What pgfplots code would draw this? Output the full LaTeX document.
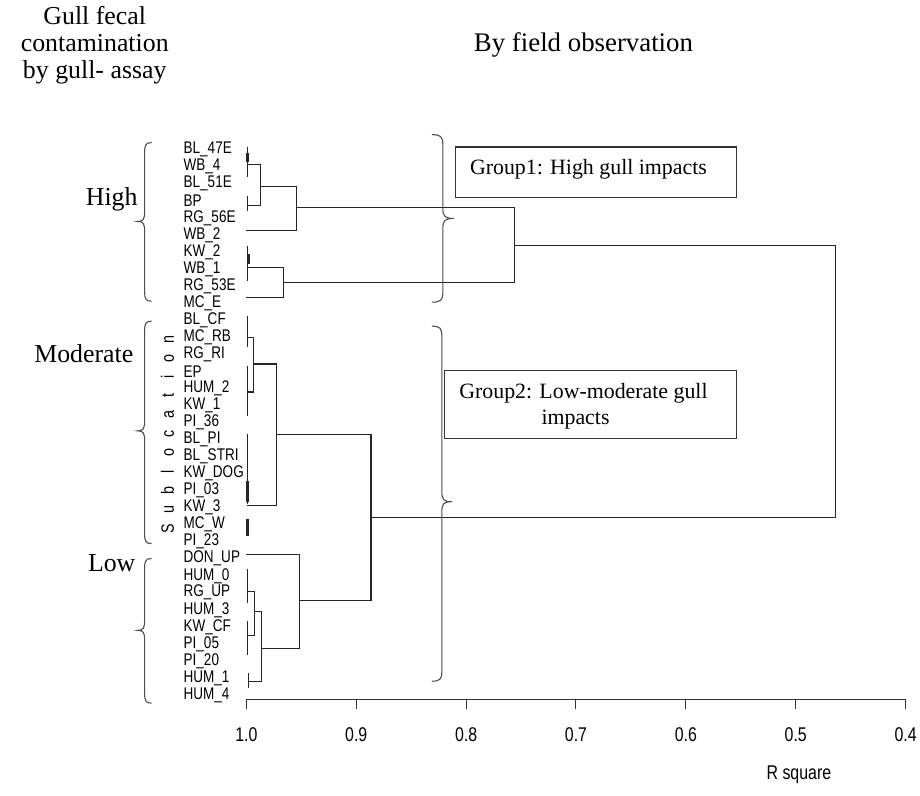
\documentclass[border=0pt]{standalone}
\usepackage{fontspec}
\setmainfont{Liberation Serif}
\newfontfamily\sasfont[FakeStretch=0.8]{Liberation Sans}
\usepackage{pgfplots}
\pgfplotsset{compat=1.18}

% brace: x0, ytop, ytip, ybot, h (h>0 tip to the left, h<0 tip to the right)
\newcommand{\vbrace}[5]{%
  \draw[line width=1.1, black!70] (#1,#2) .. controls +({-0.8*(#5)},0) and +(0,-8) .. ({#1-(#5)},{#2+10})
   -- ({#1-(#5)},{#3-10}) .. controls +(0,8) and +({0.8*(#5)},0) .. ({#1-2*(#5)},#3)
   .. controls +({0.8*(#5)},0) and +(0,-8) .. ({#1-(#5)},{#3+10})
   -- ({#1-(#5)},{#4-10}) .. controls +(0,8) and +({-0.8*(#5)},0) .. (#1,#4);}

\begin{document}
\begin{tikzpicture}
\begin{scope}[x=1bp,y=-1bp,shift={(-247,-701)}]
  \path[use as bounding box] (0,0) rectangle (920,798);
\end{scope}
\begin{axis}[
  scale only axis, width=661bp, height=561bp,
  xmin=0.4, xmax=1.0, x dir=reverse,
  ymin=140, ymax=701, y dir=reverse,
  axis x line*=bottom, axis y line*=left,
  y axis line style={draw=none},
  x axis line style={line width=1.2bp, black!80},
  xtick={0.4,0.5,0.6,0.7,0.8,0.9,1.0},
  xticklabels={0.4,0.5,0.6,0.7,0.8,0.9,1.0},
  tick align=outside, major tick length=10bp,
  xtick style={line width=1bp, black!80},
  xticklabel style={yshift=-15bp, font=\sasfont\fontsize{20}{20}\selectfont},
  ytick={150.0,167.1,184.2,201.3,218.4,235.5,252.5,269.6,286.7,303.8,320.9,338.0,355.1,372.2,389.3,406.4,423.4,440.5,457.6,474.7,491.8,508.9,526.0,543.1,560.2,577.3,594.3,611.4,628.5,645.6,662.7,679.8,696.9},
  yticklabels={BL\_47E,WB\_4,BL\_51E,BP,RG\_56E,WB\_2,KW\_2,WB\_1,RG\_53E,MC\_E,BL\_CF,MC\_RB,RG\_RI,EP,HUM\_2,KW\_1,PI\_36,BL\_PI,BL\_STRI,KW\_DOG,PI\_03,KW\_3,MC\_W,PI\_23,DON\_UP,HUM\_0,RG\_UP,HUM\_3,KW\_CF,PI\_05,PI\_20,HUM\_1,HUM\_4},
  ytick style={draw=none},
  yticklabel style={anchor=west, inner sep=0pt, xshift=-53bp, font=\sasfont\fontsize{17}{17}\selectfont},
  clip=false,
  dend/.style={draw=black!85, line width=1.2bp, solid, mark=none},
  thick dend/.style={draw=black!85, line width=2.6bp, solid, mark=none},
]
% High cluster
\addplot[dend] coordinates {(0.9991,147) (0.9991,177)};
\addplot[thick dend] coordinates {(0.9991,153) (0.9991,162)};
\addplot[dend] coordinates {(0.9991,165) (0.9873,165) (0.9873,206) (0.9991,206)};
\addplot[dend] coordinates {(0.9991,197) (0.9991,212)};
\addplot[dend] coordinates {(0.9873,187) (0.9546,187) (0.9546,231) (1.0,231)};
\addplot[dend] coordinates {(0.9991,247) (0.9991,282)};
\addplot[thick dend] coordinates {(0.9982,255) (0.9982,265)};
\addplot[dend] coordinates {(0.9991,268) (0.9664,268) (0.9664,298) (1.0,298)};
\addplot[dend] coordinates {(0.9546,208) (0.7558,208) (0.7558,283) (0.9664,283)};
\addplot[dend] coordinates {(0.7558,246) (0.4635,246) (0.4635,519) (0.8865,519)};
% Moderate cluster
\addplot[dend] coordinates {(0.9991,317) (0.9991,348)};
\addplot[dend] coordinates {(0.9991,338) (0.9936,338) (0.9936,393) (0.9991,393)};
\addplot[dend] coordinates {(0.9991,367) (0.9991,417)};
\addplot[dend] coordinates {(0.9936,365) (0.9728,365) (0.9728,507) (0.9991,507)};
\addplot[dend] coordinates {(0.9991,435) (0.9991,505)};
\addplot[thick dend] coordinates {(0.9991,482) (0.9991,503)};
\addplot[thick dend] coordinates {(0.9991,520) (0.9991,537)};
\addplot[dend] coordinates {(0.9728,436) (0.8865,436) (0.8865,602) (0.9519,602)};
% Low cluster
\addplot[dend] coordinates {(1.0,556) (0.9519,556) (0.9519,650) (0.9864,650)};
\addplot[dend] coordinates {(0.9991,570) (0.9991,605)};
\addplot[dend] coordinates {(0.9991,593) (0.9927,593) (0.9927,637) (0.9991,637)};
\addplot[dend] coordinates {(0.9991,623) (0.9991,657)};
\addplot[dend] coordinates {(0.9927,613) (0.9864,613) (0.9864,683) (0.9982,683)};
\addplot[dend] coordinates {(0.9982,675) (0.9982,690)};
\end{axis}
\begin{scope}[x=1bp,y=-1bp,shift={(-247,-701)}]
  \node[align=center, inner sep=0pt, font=\fontsize{26}{27}\selectfont] at (95,45) {Gull fecal\\contamination\\by gull- assay};
  \node[inner sep=0pt, font=\fontsize{27}{28}\selectfont] at (585,45) {By field observation};
  \node[inner sep=0pt, font=\fontsize{26}{27}\selectfont] at (112,200) {High};
  \node[inner sep=0pt, font=\fontsize{26}{27}\selectfont] at (84,355) {Moderate};
  \node[inner sep=0pt, font=\fontsize{26}{27}\selectfont] at (112,565) {Low};
  \node[rotate=90, inner sep=0pt, font=\sasfont\fontsize{18}{18}\selectfont] at (168,435)
    {\makebox[19bp]{S}\makebox[19bp]{u}\makebox[19bp]{b}\makebox[19bp]{l}\makebox[19bp]{o}\makebox[19bp]{c}\makebox[19bp]{a}\makebox[19bp]{t}\makebox[19bp]{i}\makebox[19bp]{o}\makebox[19bp]{n}};
  \node[inner sep=0pt, font=\sasfont\fontsize{20}{20}\selectfont] at (801,777) {R square};
  % braces
  \vbrace{152}{143}{222}{302}{7}
  \vbrace{152}{322}{432}{545}{7}
  \vbrace{152}{560}{632}{705}{7}
  \vbrace{433}{135}{219}{303}{-11}
  \vbrace{433}{327}{503}{683}{-10}
  % group boxes
  \draw[line width=1.2, black!80] (456.7,147.3) rectangle (738.3,197.7);
  \node[inner sep=0pt, font=\fontsize{22}{24}\selectfont] at (590,170) {Group1: High gull impacts};
  \draw[line width=1.2, black!80] (445.7,371.7) rectangle (738.3,440);
  \node[inner sep=0pt, font=\fontsize{22}{24}\selectfont] at (585,394) {Group2: Low-moderate gull};
  \node[inner sep=0pt, font=\fontsize{22}{24}\selectfont] at (577,421) {impacts};
\end{scope}
\end{tikzpicture}
\end{document}
